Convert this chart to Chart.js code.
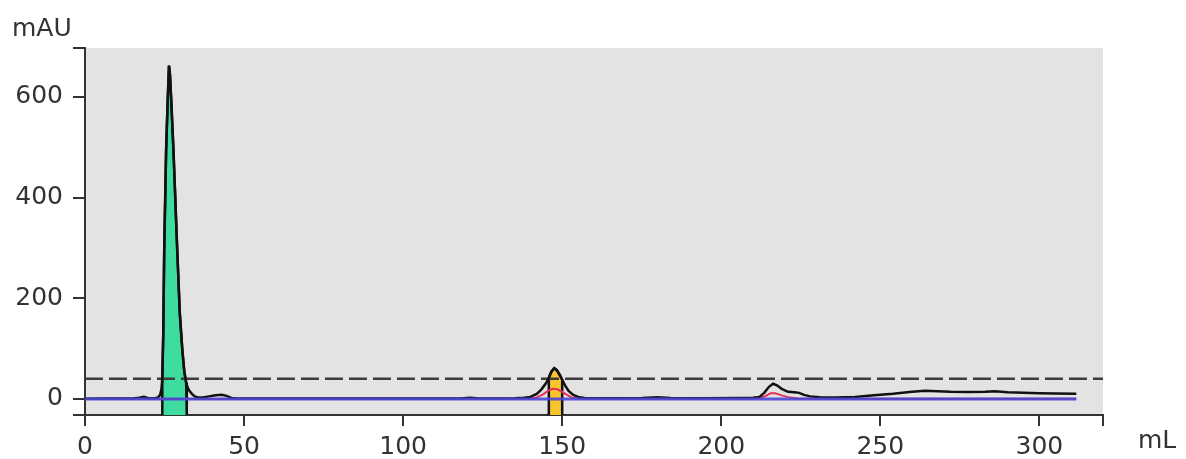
<!DOCTYPE html>
<html>
<head>
<meta charset="utf-8">
<script src="https://cdn.jsdelivr.net/npm/chart.js@4.4.1/dist/chart.umd.min.js"></script>
<style>
  html, body { margin: 0; padding: 0; background: #ffffff; }
  #wrap { width: 1186px; height: 459px; }
</style>
</head>
<body>
<div id="wrap"><canvas id="chart" width="1186" height="459"></canvas></div>
<script>
// UV absorbance trace: elution volume (mL) and absorbance (mAU)
const uvVolume = [0, 5, 10, 15, 17, 18.5, 20, 22, 23.0, 23.6, 24.0, 24.3, 24.6, 24.9, 25.5, 26.0, 26.4, 26.7, 27.1, 27.8, 29.0, 29.8, 30.6, 31.2, 31.8, 32.0, 32.6, 33.6, 34.5, 35.5, 37, 39, 41, 43, 44.5, 46, 48, 55, 70, 90, 110, 118, 121, 124, 135, 138, 140, 142, 143.5, 145, 145.8, 146.6, 147.5, 148.3, 149.2, 150.0, 150.8, 152, 153.5, 155, 157, 165, 175, 180, 184, 195, 205, 210, 212, 213.5, 215, 216.3, 217.5, 219, 221, 223, 224.5, 226, 228, 231, 236, 242, 248, 254, 260, 264, 268, 272, 278, 283, 286, 290, 295, 300, 305, 311.6];
const uvAbs = [0.5, 0.6, 0.8, 1.0, 2.5, 4, 1.5, 1.5, 3, 8, 18, 40, 130, 295, 495, 594, 662, 645, 594, 495, 295, 170, 97, 55, 32, 27, 18, 10, 5, 3, 3, 5, 7, 8, 6, 2, 1, 0.8, 0.6, 0.6, 0.8, 1, 2.5, 1, 1.5, 2.5, 4, 10, 19, 32, 42, 54, 61, 57, 48, 38, 28, 16, 8, 4, 2, 1.5, 2, 3.5, 2, 1.5, 2, 2.5, 4, 12, 24, 30, 27, 20, 14, 13, 12, 8, 5, 3.5, 3, 4, 7, 10, 14, 16, 15, 14, 13.5, 14, 15, 13, 12, 11, 10.5, 10];

// Second wavelength trace
const uv2Volume = [0, 140, 142, 144, 145.5, 147, 148.5, 150, 151.5, 153, 155, 210, 212, 214, 215.5, 217, 219, 221, 224, 230, 311.6];
const uv2Abs = [0, 0.5, 3, 9, 16, 20, 19, 14, 8, 3, 0.5, 0.5, 1.5, 6, 11, 11, 7, 3.5, 1, 0.3, 0.3];

// Baseline trace
const baseVolume = [0, 311.6];
const baseAbs = [0, 0];

// Fraction collection threshold (mAU)
const thresholdLevel = 40;

// Collected fractions (mL)
const fractionStarts = [24.3, 145.8];
const fractionEnds = [32.0, 150.0];

// Axis ticks
const xTickValues = [0, 50, 100, 150, 200, 250, 300];
const yTickValues = [0, 200, 400, 600];
const xRange = [0, 320];
const yRange = [-32, 697];

const fractionFills = ['#3fdca0', '#f7c42c'];
const axisColor = '#333333';
const textColor = '#333333';
const labelFont = { family: 'DejaVu Sans', size: 25 };

const toPoints = (xs, ys) => xs.map((x, i) => ({ x: x, y: ys[i] }));

const uvPoints = toPoints(uvVolume, uvAbs);

// Shaded area under the UV trace for each collected fraction
const fractionSets = fractionStarts.map((start, i) => {
  const end = fractionEnds[i];
  const inside = uvPoints.filter(p => p.x >= start && p.x <= end);
  return {
    data: [{ x: start, y: yRange[0] }, ...inside, { x: end, y: yRange[0] }],
    showLine: true,
    borderColor: '#111111',
    borderWidth: 2.5,
    backgroundColor: fractionFills[i],
    fill: 'start',
    pointRadius: 0,
    tension: 0,
    order: 5
  };
});

const plotBackground = {
  id: 'plotBackground',
  beforeDraw(chart) {
    const { ctx, chartArea: a } = chart;
    ctx.save();
    ctx.fillStyle = '#e3e3e3';
    ctx.fillRect(a.left, a.top, a.right - a.left, a.bottom - a.top);
    ctx.restore();
  }
};

const unitLabels = {
  id: 'unitLabels',
  afterDraw(chart) {
    const { ctx, chartArea: a } = chart;
    ctx.save();
    ctx.fillStyle = textColor;
    ctx.font = '25px "DejaVu Sans"';
    ctx.textBaseline = 'middle';
    ctx.textAlign = 'left';
    ctx.fillText('mAU', 12, a.top - 19);
    ctx.fillText('mL', a.right + 35, a.bottom + 26);
    ctx.restore();
  }
};

new Chart(document.getElementById('chart'), {
  type: 'scatter',
  data: {
    datasets: [
      {
        data: [{ x: xRange[0], y: thresholdLevel }, { x: xRange[1], y: thresholdLevel }],
        showLine: true,
        borderColor: '#3c3c3c',
        borderWidth: 2.5,
        borderDash: [18, 6],
        pointRadius: 0,
        order: 4
      },
      ...fractionSets,
      {
        data: toPoints(uv2Volume, uv2Abs),
        showLine: true,
        borderColor: '#e8305a',
        borderWidth: 2,
        pointRadius: 0,
        tension: 0,
        order: 3
      },
      {
        data: uvPoints,
        showLine: true,
        borderColor: '#111111',
        borderWidth: 2.5,
        pointRadius: 0,
        tension: 0,
        order: 2
      },
      {
        data: toPoints(baseVolume, baseAbs),
        showLine: true,
        borderColor: 'rgba(72,72,215,0.9)',
        borderWidth: 3,
        pointRadius: 0,
        order: 1
      }
    ]
  },
  options: {
    responsive: false,
    animation: false,
    events: [],
    layout: { padding: { top: 48, right: 83, left: 0, bottom: 0 } },
    plugins: { legend: { display: false }, tooltip: { enabled: false } },
    scales: {
      x: {
        type: 'linear',
        min: xRange[0],
        max: xRange[1],
        afterFit(scale) { scale.height = 44; },
        afterBuildTicks(scale) {
          scale.ticks = [...xTickValues, xRange[1]].map(v => ({ value: v }));
        },
        border: { display: true, color: axisColor, width: 2 },
        grid: { display: true, drawOnChartArea: false, drawTicks: true, tickLength: 11, color: axisColor, lineWidth: 2 },
        ticks: {
          autoSkip: false,
          maxRotation: 0,
          padding: 6,
          color: textColor,
          font: labelFont,
          callback: v => (xTickValues.includes(v) ? String(v) : '')
        }
      },
      y: {
        type: 'linear',
        min: yRange[0],
        max: yRange[1],
        afterFit(scale) { scale.width = 85; },
        afterBuildTicks(scale) {
          scale.ticks = [yRange[0], ...yTickValues, yRange[1]].map(v => ({ value: v }));
        },
        border: { display: true, color: axisColor, width: 2 },
        grid: { display: true, drawOnChartArea: false, drawTicks: true, tickLength: 12, color: axisColor, lineWidth: 2 },
        ticks: {
          autoSkip: false,
          padding: 10,
          color: textColor,
          font: labelFont,
          callback: v => (yTickValues.includes(v) ? String(v) : '')
        }
      }
    }
  },
  plugins: [plotBackground, unitLabels]
});
</script>
</body>
</html>
